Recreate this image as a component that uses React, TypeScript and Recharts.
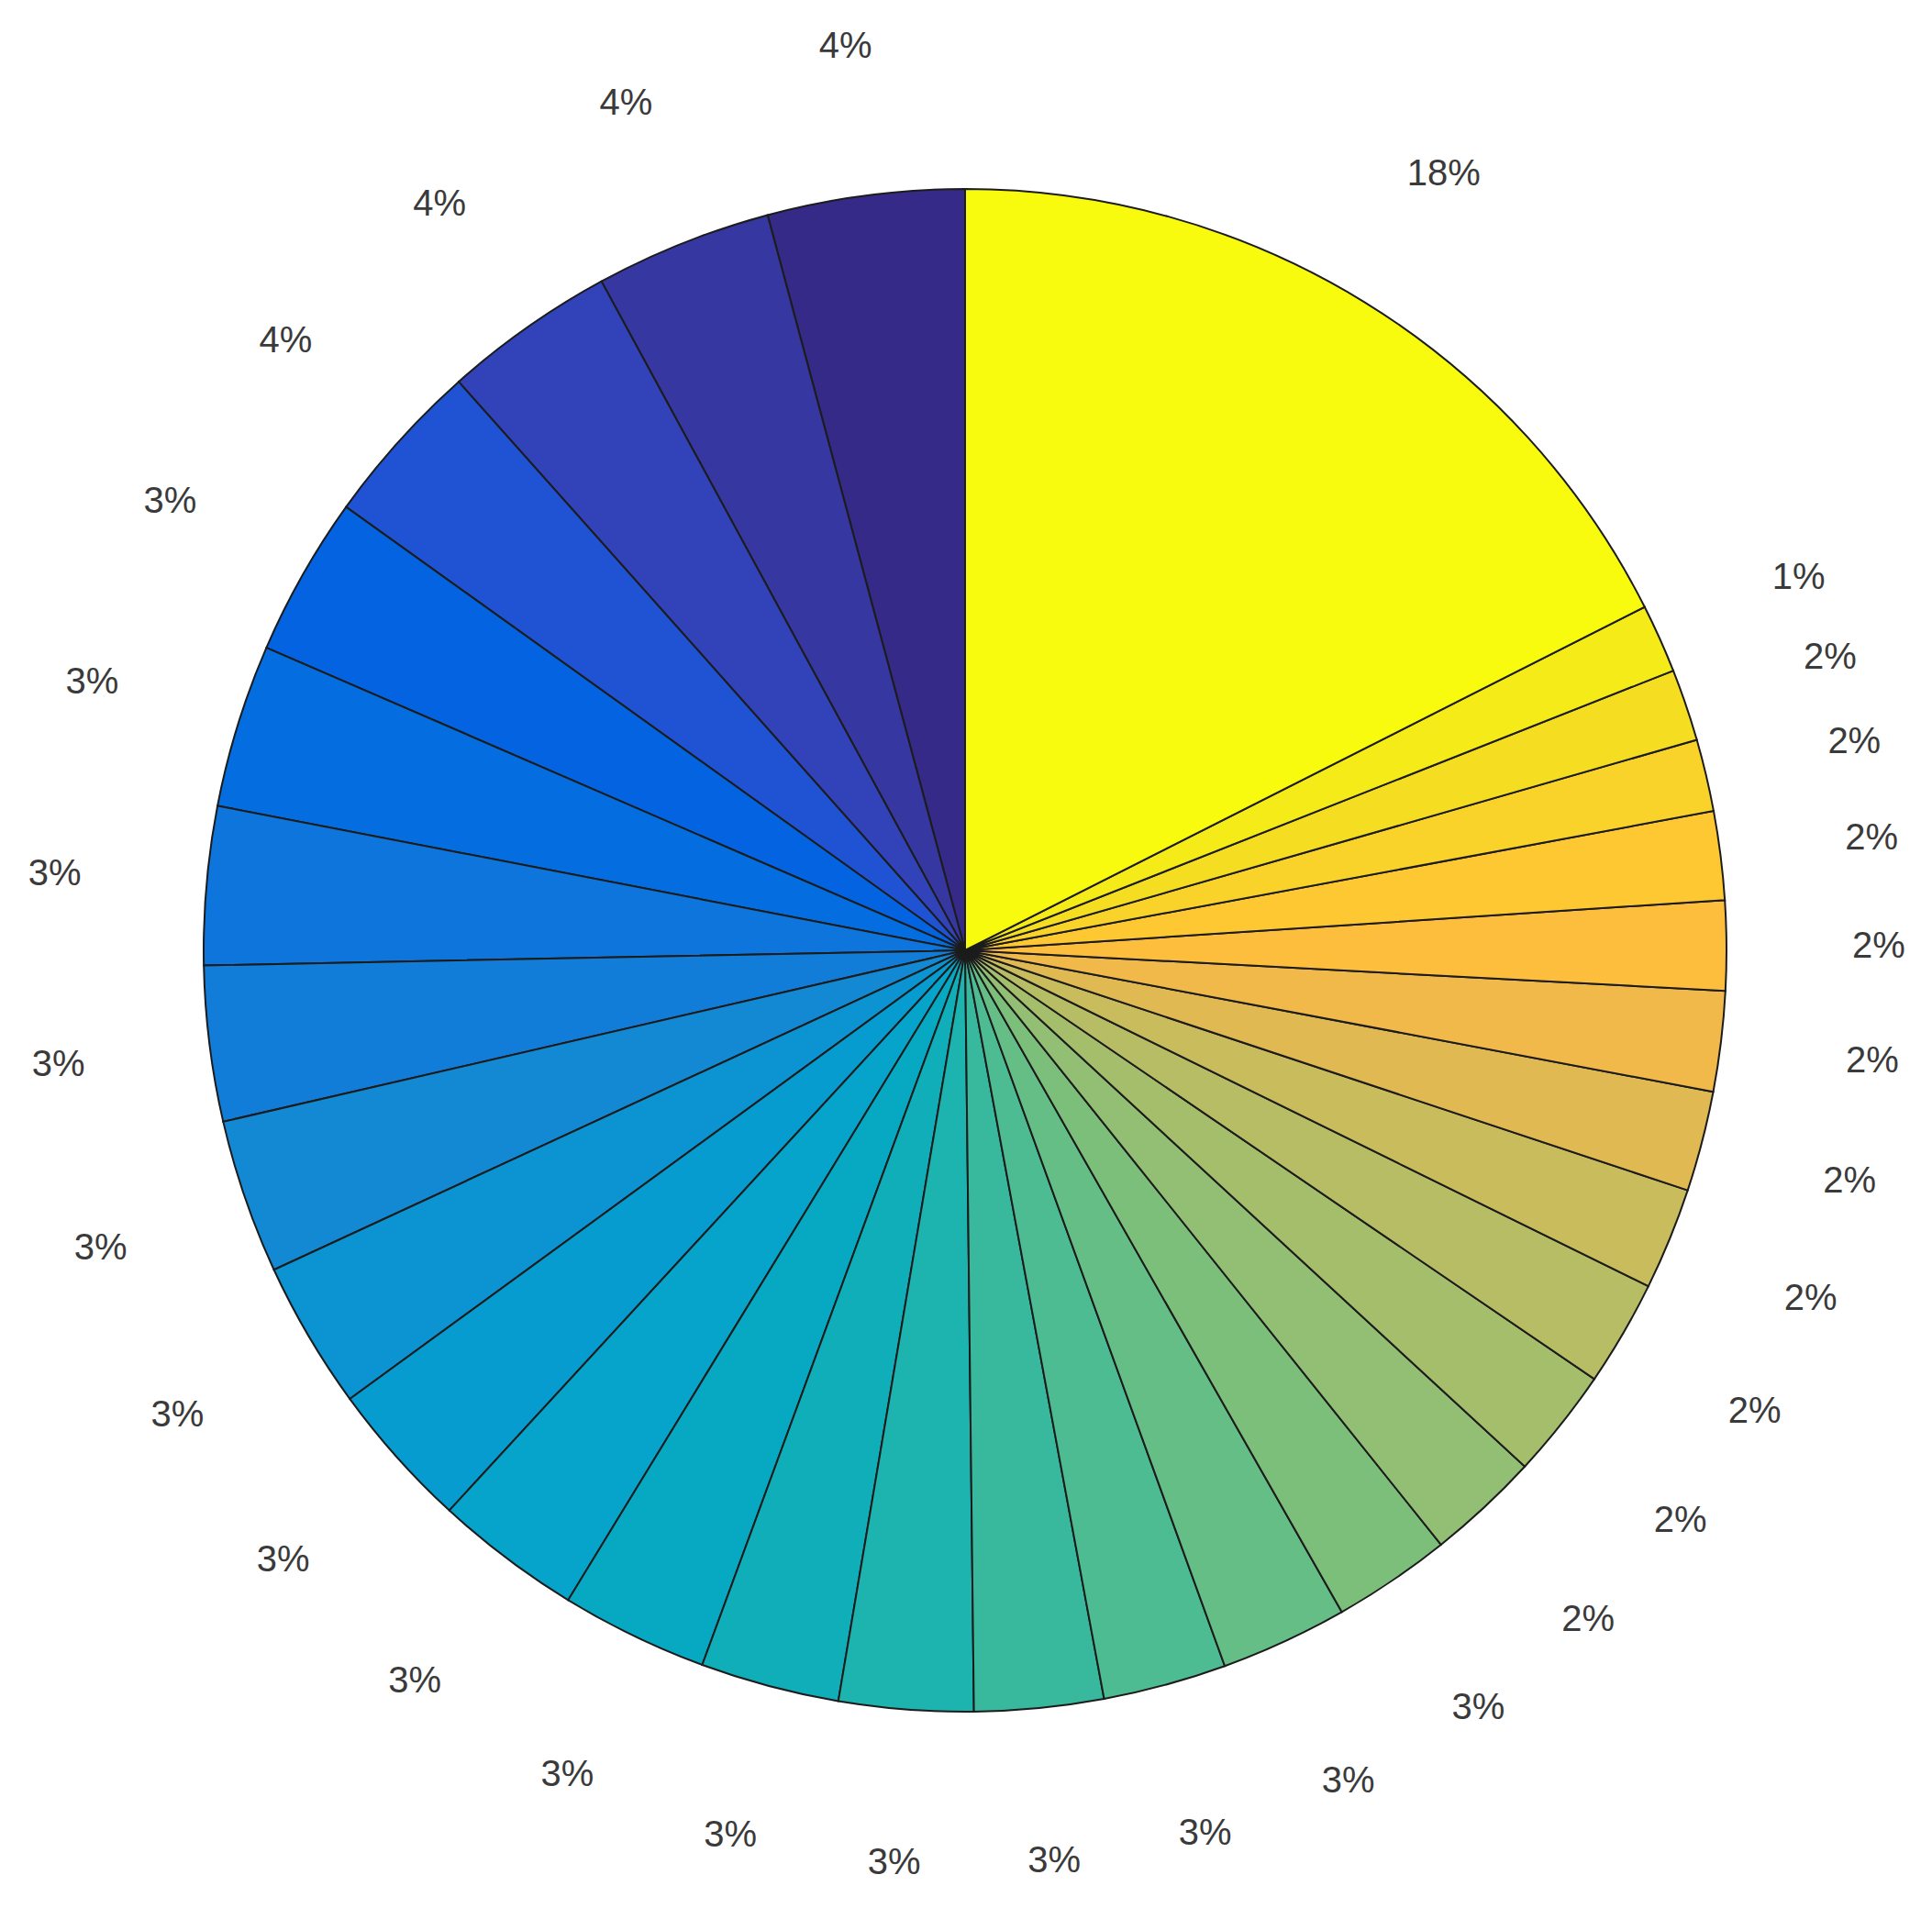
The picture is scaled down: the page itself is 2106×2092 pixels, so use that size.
import React from 'react';
import { PieChart, Pie, Cell } from 'recharts';

// slice shares, counter-clockwise from 12 o'clock
const sliceValues = [
  4.18, 3.75, 3.66, 3.53, 3.39, 3.47, 3.36, 3.30, 3.28, 3.14,
  3.13, 3.12, 3.12, 2.95, 2.85, 2.74, 2.62, 2.70, 2.51, 2.40,
  2.34, 2.25, 2.17, 2.13, 2.13, 1.90, 1.88, 1.53, 1.53, 1.46,
  17.57
];

// parula colormap, sampled once per slice
const parulaColors = [
  '#352A87', '#3637A0', '#3243BA', '#2053D4', '#0363E1', '#046DE0', '#0D75DC', '#127DD8',
  '#1389D3', '#0C93D2', '#079CCF', '#06A4CA', '#07A9C2', '#0FAEB9', '#1DB3AF', '#38B99E',
  '#4DBC92', '#65BE86', '#7CBF7B', '#92BF73', '#A5BE6B', '#B7BD64', '#C8BC5D', '#E1B952',
  '#F1B94A', '#FDBE3D', '#FEC832', '#FAD32A', '#F5DE21', '#F5EB18', '#F9FB0E'
];

const pieData = sliceValues.map((value, i) => ({ name: `Slice ${i + 1}`, value }));

const RADIAN = Math.PI / 180;

const renderLabel = ({ cx, cy, midAngle, outerRadius, percent }: any) => {
  const r = outerRadius * 1.2;
  const x = cx + r * Math.cos(-midAngle * RADIAN);
  const y = cy + r * Math.sin(-midAngle * RADIAN);
  return (
    <text
      x={x}
      y={y}
      textAnchor="middle"
      dominantBaseline="central"
      fill="#3a3a3a"
      fontSize={40}
      fontFamily="'Liberation Sans', Arial, sans-serif"
    >
      {`${Math.round(percent * 100)}%`}
    </text>
  );
};

export default function App() {
  return (
    <div style={{ width: 2090, height: 2076, background: '#fff' }}>
      <PieChart width={2090} height={2076} margin={{ top: 0, right: 0, bottom: 0, left: 0 }}>
        <Pie
          data={pieData}
          dataKey="value"
          cx={1044}
          cy={1028}
          outerRadius={830}
          startAngle={90}
          endAngle={450}
          stroke="#1c1c1c"
          strokeWidth={2}
          labelLine={false}
          label={renderLabel}
          isAnimationActive={false}
        >
          {pieData.map((entry, index) => (
            <Cell key={`cell-${index}`} fill={parulaColors[index]} />
          ))}
        </Pie>
      </PieChart>
    </div>
  );
}
